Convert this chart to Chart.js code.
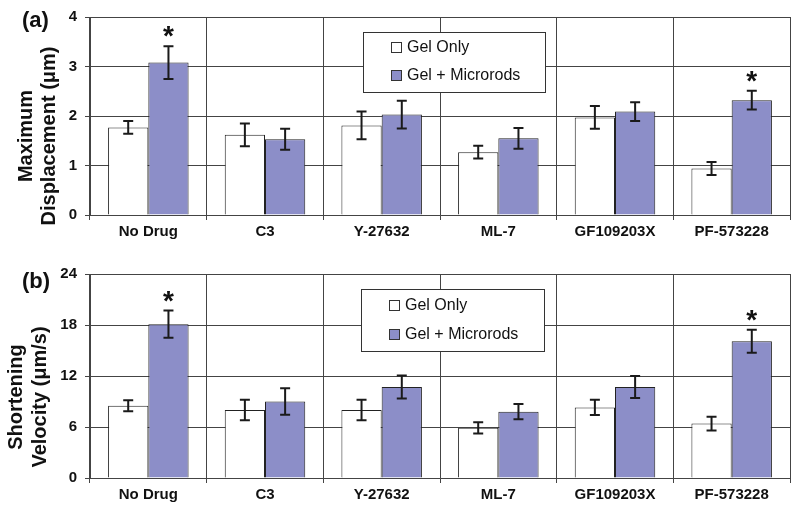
<!DOCTYPE html>
<html>
<head>
<meta charset="utf-8">
<script src="https://cdn.jsdelivr.net/npm/chart.js@4.4.1/dist/chart.umd.min.js"></script>
<style>
    body { margin: 0; background: #fff; }
    canvas { display: block; }
</style>
</head>
<body>
<canvas id="chartA" width="800" height="250"></canvas>
<canvas id="chartB" width="800" height="261"></canvas>
<script>
// Drug treatments and the two gel conditions
const categories = ['No Drug', 'C3', 'Y-27632', 'ML-7', 'GF109203X', 'PF-573228'];
const seriesNames = ['Gel Only', 'Gel + Microrods'];

// (a) Maximum displacement (µm), mean and error
const gelOnlyA = [1.77, 1.62, 1.81, 1.27, 1.97, 0.94];
const gelOnlyErrA = [0.13, 0.23, 0.28, 0.13, 0.23, 0.13];
const microrodsA = [3.08, 1.53, 2.03, 1.55, 2.09, 2.32];
const microrodsErrA = [0.33, 0.21, 0.28, 0.21, 0.19, 0.19];
const starsA = [0, 5];

// (b) Shortening velocity (µm/s), mean and error
const gelOnlyB = [8.5, 8.0, 8.0, 5.9, 8.3, 6.4];
const gelOnlyErrB = [0.65, 1.2, 1.2, 0.65, 0.9, 0.8];
const microrodsB = [18.1, 9.0, 10.7, 7.8, 10.7, 16.1];
const microrodsErrB = [1.6, 1.55, 1.35, 0.9, 1.3, 1.35];
const starsB = [0, 5];

const FONT = '"Liberation Sans", Arial, Helvetica, sans-serif';
const GRID = '#444';
const colors = ['#ffffff', '#8c8ec8'];

Chart.defaults.font.family = FONT;
Chart.defaults.color = '#111';

// Error bars, significance stars, legend box, axis title and panel letter
const overlayPlugin = {
    id: 'overlay',
    afterDatasetsDraw(chart, args, opts) {
        const ctx = chart.ctx;
        const yScale = chart.scales.y;
        ctx.save();
        ctx.strokeStyle = '#1a1a1a';
        ctx.lineWidth = 2;
        chart.data.datasets.forEach(function(ds, i) {
            const meta = chart.getDatasetMeta(i);
            meta.data.forEach(function(bar, j) {
                const top = yScale.getPixelForValue(ds.data[j] + ds.errors[j]);
                const bot = yScale.getPixelForValue(ds.data[j] - ds.errors[j]);
                ctx.beginPath();
                ctx.moveTo(bar.x, top); ctx.lineTo(bar.x, bot);
                ctx.moveTo(bar.x - 5, top); ctx.lineTo(bar.x + 5, top);
                ctx.moveTo(bar.x - 5, bot); ctx.lineTo(bar.x + 5, bot);
                ctx.stroke();
                if (ds.stars && ds.stars.indexOf(j) >= 0) {
                    ctx.fillStyle = '#111';
                    ctx.font = 'bold 28px ' + FONT;
                    ctx.textAlign = 'center';
                    ctx.textBaseline = 'alphabetic';
                    ctx.fillText('*', bar.x, top - 1);
                }
            });
        });
        ctx.restore();
    },
    afterDraw(chart, args, opts) {
        const ctx = chart.ctx;
        ctx.save();
        // legend
        const b = opts.legendBox;
        ctx.fillStyle = '#fff';
        ctx.fillRect(b.x, b.y, b.w, b.h);
        ctx.strokeStyle = '#333';
        ctx.lineWidth = 1;
        ctx.strokeRect(b.x + 0.5, b.y + 0.5, b.w, b.h);
        ctx.font = '16px ' + FONT;
        ctx.textAlign = 'left';
        ctx.textBaseline = 'middle';
        chart.data.datasets.forEach(function(ds, i) {
            const ry = b.rows[i];
            ctx.fillStyle = ds.backgroundColor;
            ctx.fillRect(b.x + 28, ry - 5, 10, 10);
            ctx.strokeRect(b.x + 28.5, ry - 4.5, 10, 10);
            ctx.fillStyle = '#111';
            ctx.fillText(ds.label, b.x + 44, ry + 1);
        });
        // panel letter
        ctx.font = 'bold 22px ' + FONT;
        ctx.fillText(opts.panel, 22, opts.panelY);
        // rotated two-line axis title
        ctx.font = 'bold 20px ' + FONT;
        ctx.textAlign = 'center';
        opts.title.forEach(function(line, k) {
            ctx.save();
            ctx.translate(opts.titleX[k], opts.titleY);
            ctx.rotate(-Math.PI / 2);
            ctx.fillText(line, 0, 0);
            ctx.restore();
        });
        ctx.restore();
    }
};

function createPanel(id, cfg) {
    return new Chart(document.getElementById(id), {
        type: 'bar',
        data: {
            labels: categories,
            datasets: [{
                label: seriesNames[0],
                data: cfg.gelOnly,
                errors: cfg.gelOnlyErr,
                backgroundColor: colors[0],
                borderColor: '#222',
                borderWidth: 1
            }, {
                label: seriesNames[1],
                data: cfg.microrods,
                errors: cfg.microrodsErr,
                stars: cfg.stars,
                backgroundColor: colors[1],
                borderColor: '#222',
                borderWidth: 1
            }]
        },
        options: {
            responsive: false,
            devicePixelRatio: 1,
            animation: false,
            categoryPercentage: 0.69,
            barPercentage: 1,
            layout: {
                padding: { left: 0, right: 10, top: cfg.top, bottom: 0 }
            },
            plugins: {
                legend: { display: false },
                tooltip: { enabled: false },
                overlay: {
                    legendBox: cfg.legendBox,
                    panel: cfg.panel,
                    panelY: cfg.panelY,
                    title: cfg.title,
                    titleX: cfg.titleX,
                    titleY: cfg.titleY
                }
            },
            scales: {
                x: {
                    afterFit: function(scale) { scale.height = cfg.xHeight; },
                    grid: {
                        color: GRID,
                        lineWidth: 1,
                        tickLength: 5
                    },
                    border: { color: GRID },
                    ticks: {
                        padding: 3,
                        font: { size: 15, weight: 'bold' }
                    }
                },
                y: {
                    min: 0,
                    max: cfg.max,
                    afterFit: function(scale) { scale.width = 90; },
                    grid: {
                        color: GRID,
                        lineWidth: 1,
                        tickLength: 5
                    },
                    border: { color: GRID },
                    ticks: {
                        stepSize: cfg.step,
                        padding: 8,
                        font: { size: 15, weight: 'bold' }
                    }
                }
            }
        },
        plugins: [overlayPlugin]
    });
}

createPanel('chartA', {
    gelOnly: gelOnlyA, gelOnlyErr: gelOnlyErrA,
    microrods: microrodsA, microrodsErr: microrodsErrA, stars: starsA,
    max: 4, step: 1, top: 16, xHeight: 35,
    legendBox: { x: 363, y: 32, w: 182, h: 60, rows: [47, 75] },
    panel: '(a)', panelY: 21,
    title: ['Maximum', 'Displacement (\u03bcm)'], titleX: [26, 49], titleY: 136
});

createPanel('chartB', {
    gelOnly: gelOnlyB, gelOnlyErr: gelOnlyErrB,
    microrods: microrodsB, microrodsErr: microrodsErrB, stars: starsB,
    max: 24, step: 6, top: 24, xHeight: 33,
    legendBox: { x: 361, y: 39, w: 183, h: 62, rows: [55, 84] },
    panel: '(b)', panelY: 32,
    title: ['Shortening', 'Velocity (\u03bcm/s)'], titleX: [16, 40], titleY: 147
});
</script>
</body>
</html>
